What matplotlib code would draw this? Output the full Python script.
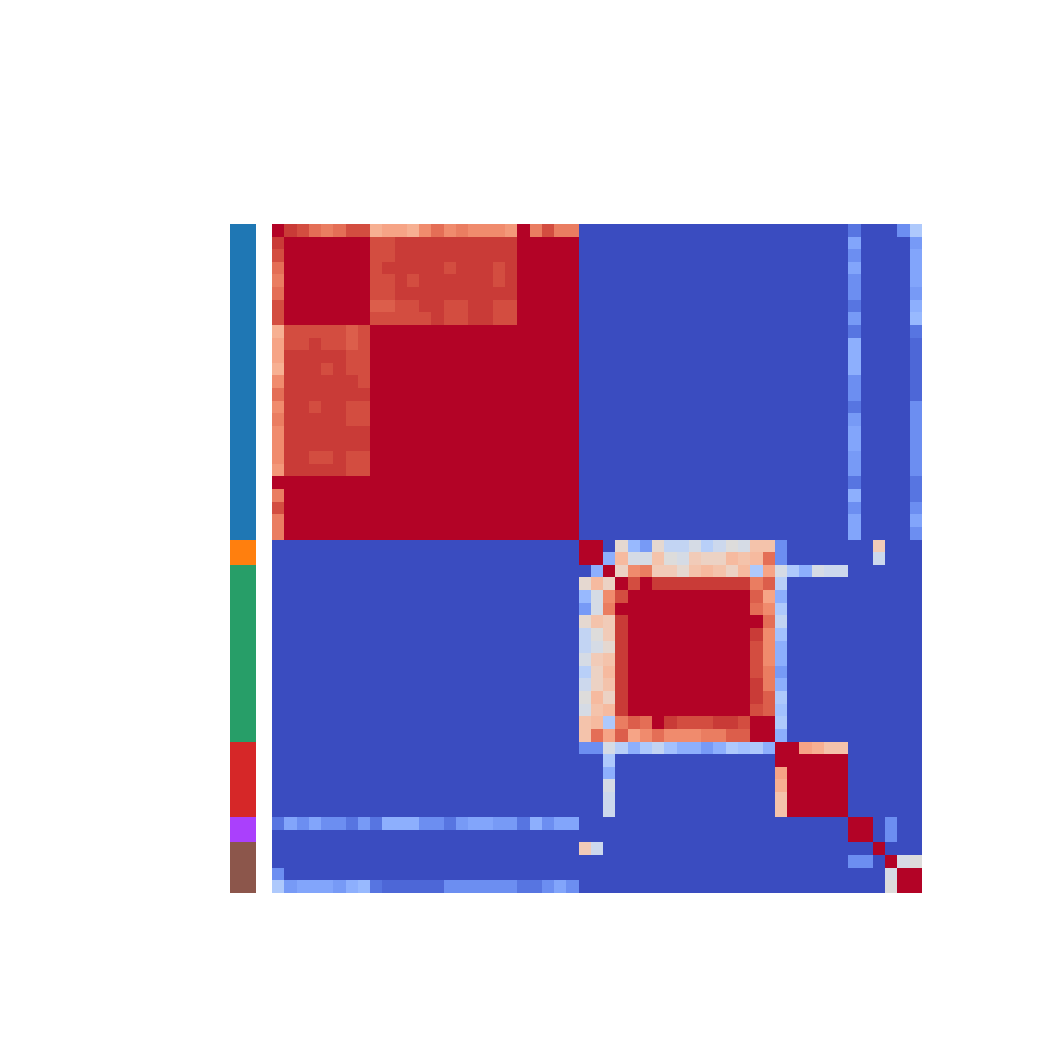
import numpy as np
import matplotlib
matplotlib.use("Agg")
import matplotlib.pyplot as plt
from matplotlib.colors import ListedColormap

# group bar on the left (scanpy default palette)
group_colors = ["#1f77b4", "#ff7f0e", "#279e68", "#d62728", "#aa40fc", "#8c564b"]
group_sizes = [25, 2, 14, 6, 2, 4]

# lower triangle of the correlation matrix, one char per cell
# level index in LEVELS, value = index / 32
LEVELS = "0123456789ABCDEFGHIJKLMNOPQRSTUVW"
lower = [
    "W",
    "UW",
    "TWW",
    "R" + "W" * 3,
    "Q" + "W" * 4,
    "R" + "W" * 5,
    "T" + "W" * 6,
    "T" + "W" * 7,
    "MTTTTTST" + "W",
    "NTTUTTST" + "W" * 2,
    "NUUUUUTT" + "W" * 3,
    "MUUUTUTT" + "W" * 4,
    "PUUUUUUT" + "W" * 5,
    "RUUUUUUU" + "W" * 6,
    "PUUTUUTT" + "W" * 7,
    "QUUUUUTT" + "W" * 8,
    "PUUUUUUU" + "W" * 9,
    "PUUUUUUU" + "W" * 10,
    "PUUTTUTT" + "W" * 11,
    "OUUUUUTT" + "W" * 12,
    "W" * 21,
    "Q" + "W" * 21,
    "T" + "W" * 22,
    "Q" + "W" * 23,
    "Q" + "W" * 24,
    "0" * 25 + "W",
    "0" * 25 + "WW",
    "0" * 25 + "08W",
    "0" * 25 + "HLIW",
    "0" * 25 + "9FPTW",
    "0" * 25 + "6FQWWW",
    "0" * 25 + "HKJUWWW",
    "0" * 25 + "DGJUWWWW",
    "0" * 25 + "DFHUWWWWW",
    "0" * 25 + "FJKU" + "W" * 6,
    "0" * 25 + "CILU" + "W" * 7,
    "0" * 25 + "EIKU" + "W" * 8,
    "0" * 25 + "GLIU" + "W" * 9,
    "0" * 25 + "FKLU" + "W" * 10,
    "0" * 25 + "KLBQSRWUTTTUUTW",
    "0" * 25 + "KRNSNPRPPPQQSSWW",
    "0" * 25 + "55FC8BDA8868BAB8W",
    "0" * 25 + "00B" + "0" * 13 + "WW",
    "0" * 25 + "008" + "0" * 13 + "NWW",
    "0" * 25 + "00F" + "0" * 13 + "MWWW",
    "0" * 25 + "00E" + "0" * 13 + "KWWWW",
    "0" * 25 + "00E" + "0" * 13 + "KWWWWW",
    "3757553638885536776638577" + "0" * 22 + "W",
    "0" * 47 + "WW",
    "0" * 25 + "JE" + "0" * 22 + "W",
    "0" * 47 + "550W",
    "5" + "0" * 49 + "FW",
    "B677768932222255555533575" + "0" * 25 + "GWW",
]

n = len(lower)
corr = np.zeros((n, n))
for i, row in enumerate(lower):
    assert len(row) == i + 1, (i, len(row))
    for j, ch in enumerate(row):
        v = LEVELS.index(ch) / 32
        corr[i, j] = v
        corr[j, i] = v

group_idx = np.repeat(np.arange(len(group_sizes)), group_sizes)

fig = plt.figure(figsize=(10.5, 10.5), dpi=100)

ax_rc = fig.add_axes([230 / 1050, 1 - 893 / 1050, 26 / 1050, 669 / 1050])
ax_rc.imshow(group_idx[:, None], aspect="auto", interpolation="nearest",
             cmap=ListedColormap(group_colors), vmin=-0.5, vmax=len(group_colors) - 0.5)
ax_rc.axis("off")

ax = fig.add_axes([272 / 1050, 1 - 893 / 1050, 650 / 1050, 669 / 1050])
ax.imshow(corr, aspect="auto", interpolation="nearest", cmap="coolwarm", vmin=0, vmax=1)
ax.axis("off")

fig.savefig("out.png", dpi=100)
